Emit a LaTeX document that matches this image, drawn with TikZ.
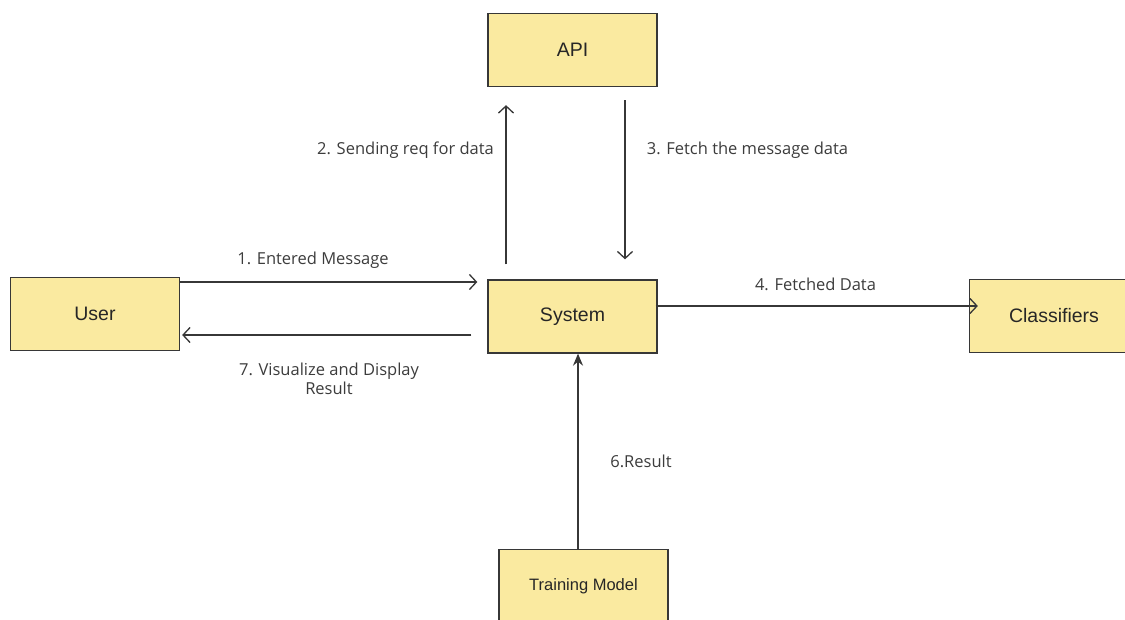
\documentclass[tikz,border=0pt]{standalone}
\usepackage{fontspec}
\setmainfont{Liberation Sans}
\newfontfamily\labelfont{Open Sans}
\usetikzlibrary{arrows.meta}
\definecolor{boxfill}{RGB}{250,234,160}
\definecolor{boxline}{RGB}{55,55,55}
\definecolor{labeltext}{RGB}{60,60,60}
\begin{document}
\begin{tikzpicture}[x=1pt,y=-1pt,
	box/.style={rectangle,draw=boxline,fill=boxfill,line width=1.3pt,minimum width=169pt,minimum height=73pt,inner sep=0pt,text=black!85,font=\fontsize{19.5}{22}\selectfont},
	msg/.style={font=\labelfont\fontsize{16.5}{19}\selectfont,text=labeltext,align=center,inner sep=0pt},
	flow/.style={draw=boxline,line width=1.3pt,-{Straight Barb[length=7pt,width=15pt]}}]
	\useasboundingbox (0,0) rectangle (1125,619);
	\node[box] (x1) at (95,314) {User};
	\node[box] (x2) at (572.5,50) {API};
	\node[box] (x3) at (572.5,316.5) {System};
	\node[box] (x4) at (1054,316) {Classifiers};
	\node[box,font=\fontsize{16.5}{19}\selectfont] (x5) at (583.5,586) {Training Model};
	\draw[flow] ([yshift=32pt]x1.east) -- ([xshift=-10pt,yshift=34.5pt]x3.west);
	\draw[flow] ([xshift=-66.5pt,yshift=15pt]x3.north) -- ([xshift=-66.5pt,yshift=-18pt]x2.south);
	\draw[flow] ([xshift=52.5pt,yshift=-13pt]x2.south) -- ([xshift=52.5pt,yshift=20pt]x3.north);
	\draw[flow] ([xshift=-2pt,yshift=10.5pt]x3.east) -- ([xshift=9pt,yshift=10pt]x4.west);
	\draw[flow,-{Stealth[length=12pt,width=10pt]}] ([xshift=-5.5pt]x5.north) -- ([xshift=5.5pt]x3.south);
	\draw[flow] ([xshift=-16pt,yshift=-18.5pt]x3.west) -- ([xshift=2pt,yshift=-21pt]x1.east);
	\node[msg] (l1) at (313,260) {1. Entered Message};
	\node[msg] (l2) at (405.5,150) {2. Sending req for data};
	\node[msg] (l3) at (747.5,150) {3. Fetch the message data};
	\node[msg] (l4) at (815.5,284.5) {4. Fetched Data};
	\node[msg] (l6) at (641,461) {6.Result};
	\node[msg] (l7) at (329,379) {7. Visualize and Display\\Result};
\end{tikzpicture}
\end{document}
